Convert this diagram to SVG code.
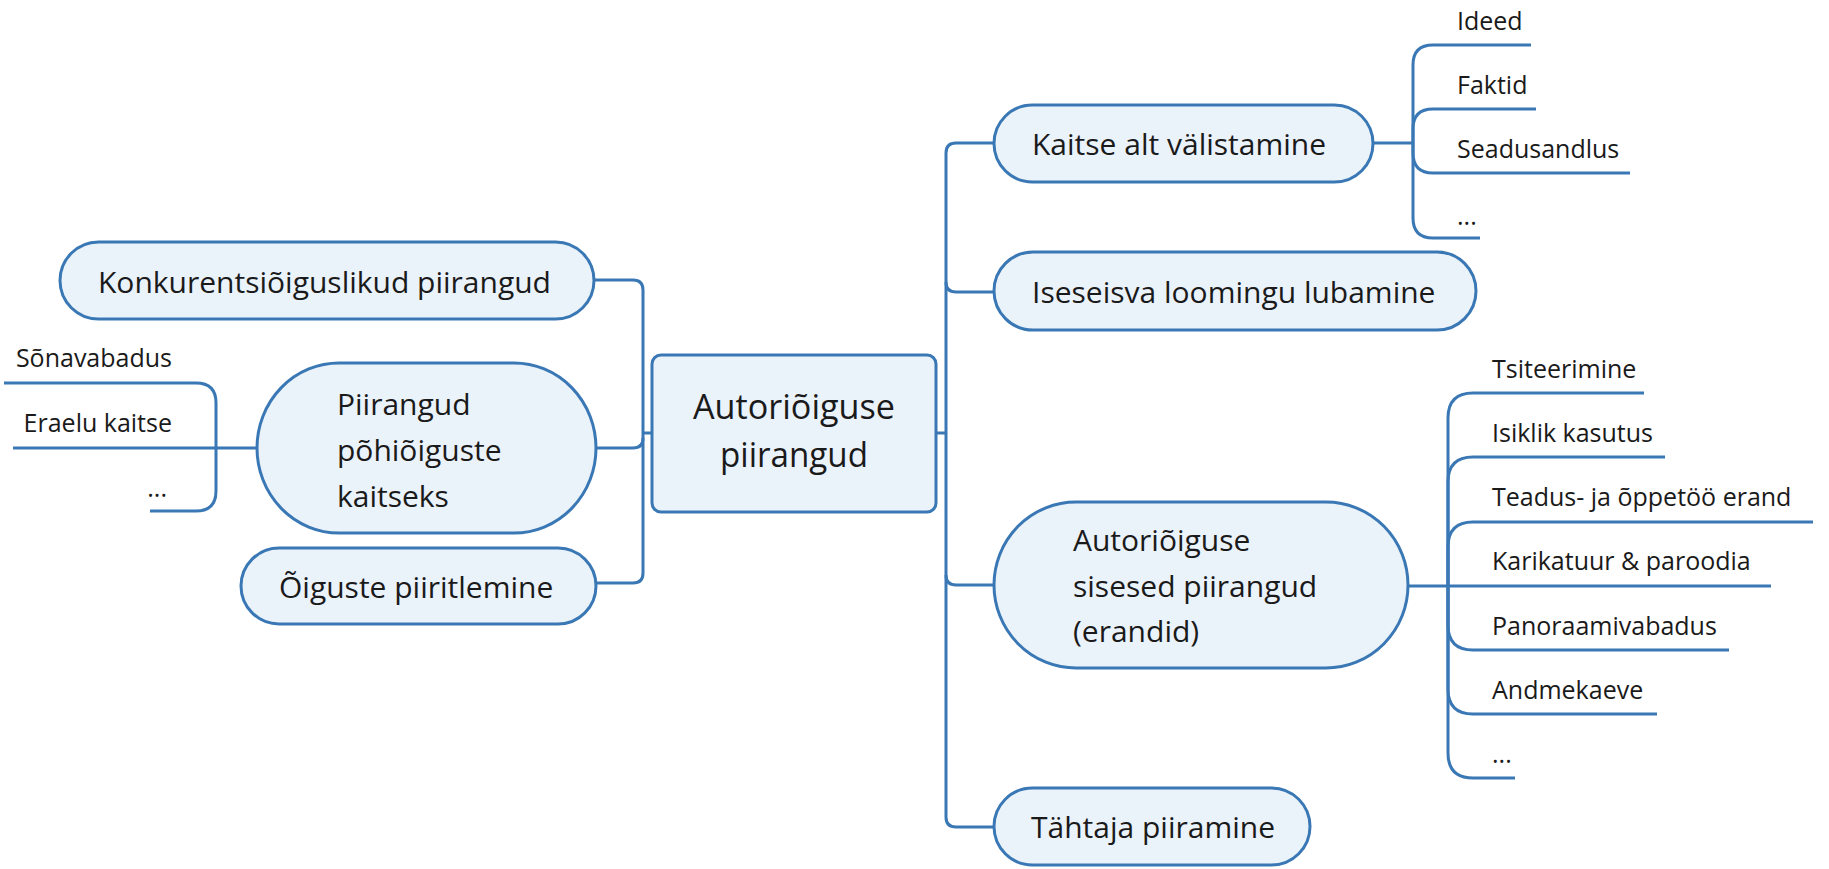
<svg xmlns="http://www.w3.org/2000/svg" width="1829" height="869" viewBox="0 0 1829 869">
<style>
.box{fill:#EAF2FA;stroke:#3A78B5;stroke-width:3}
.con{fill:none;stroke:#3A78B5;stroke-width:3;stroke-linecap:butt}
.t{font-family:"Open Sans","Noto Sans","Liberation Sans",sans-serif;fill:#1a1a1a;font-size:30px}
.c{font-family:"Open Sans","Noto Sans","Liberation Sans",sans-serif;fill:#1a1a1a;font-size:25px}
.m{font-family:"Open Sans","Noto Sans","Liberation Sans",sans-serif;fill:#1a1a1a;font-size:34px}
</style>
<rect width="1829" height="869" fill="#ffffff"/>
<g id="connectors">
<path class="con" d="M594,280 H633 Q643,280 643,290 V573 Q643,583 633,583 H596"/>
<path class="con" d="M596,448 H633 Q643,448 643,438"/>
<path class="con" d="M643,433 H652"/>
<path class="con" d="M936,433 H946"/>
<path class="con" d="M994,143 H956 Q946,143 946,153 V817 Q946,827 956,827 H994"/>
<path class="con" d="M946,282 Q946,292 956,292 H994"/>
<path class="con" d="M946,575 Q946,585 956,585 H994"/>
<path class="con" d="M1373,143 H1413"/>
<path class="con" d="M1413,143 V65 Q1413,45 1433,45 H1531"/>
<path class="con" d="M1413,143 V129 Q1413,109 1433,109 H1536"/>
<path class="con" d="M1413,143 V153 Q1413,173 1433,173 H1630"/>
<path class="con" d="M1413,143 V218 Q1413,238 1433,238 H1480"/>
<path class="con" d="M1408,586 H1771"/>
<path class="con" d="M1448,586 V418 Q1448,393 1473,393 H1644"/>
<path class="con" d="M1448,586 V482 Q1448,457 1473,457 H1665"/>
<path class="con" d="M1448,586 V547 Q1448,522 1473,522 H1813"/>
<path class="con" d="M1448,586 V625 Q1448,650 1473,650 H1729"/>
<path class="con" d="M1448,586 V689 Q1448,714 1473,714 H1657"/>
<path class="con" d="M1448,586 V753 Q1448,778 1473,778 H1515"/>
<path class="con" d="M257,448 H13"/>
<path class="con" d="M216,448 V403 Q216,383 196,383 H4"/>
<path class="con" d="M216,448 V491 Q216,511 196,511 H150"/>
</g>
<g id="center">
<rect class="box" x="652" y="355" width="284" height="157" rx="9"/>
<text class="m" x="794" y="419" text-anchor="middle" textLength="202" lengthAdjust="spacingAndGlyphs">Autoriõiguse</text>
<text class="m" x="794" y="467" text-anchor="middle" textLength="148" lengthAdjust="spacingAndGlyphs">piirangud</text>
</g>
<g id="konkurents">
<rect class="box" x="60" y="242" width="534" height="77" rx="38.5"/>
<text class="t" x="98" y="293">Konkurentsiõiguslikud piirangud</text>
</g>
<g id="pohioigused">
<rect class="box" x="257" y="363" width="339" height="170" rx="82" ry="85"/>
<text class="t" x="337" y="415">Piirangud</text>
<text class="t" x="337" y="461">põhiõiguste</text>
<text class="t" x="337" y="507">kaitseks</text>
</g>
<g id="piiritlemine">
<rect class="box" x="241" y="548" width="355" height="76" rx="38"/>
<text class="t" x="279" y="598">Õiguste piiritlemine</text>
</g>
<g id="valistamine">
<rect class="box" x="994" y="105" width="379" height="77" rx="38.5"/>
<text class="t" x="1032" y="155">Kaitse alt välistamine</text>
</g>
<g id="iseseisev">
<rect class="box" x="994" y="252" width="482" height="78" rx="39"/>
<text class="t" x="1032" y="303">Iseseisva loomingu lubamine</text>
</g>
<g id="sisesed">
<rect class="box" x="994" y="502" width="414" height="166" rx="82" ry="83"/>
<text class="t" x="1073" y="551">Autoriõiguse</text>
<text class="t" x="1073" y="597">sisesed piirangud</text>
<text class="t" x="1073" y="642">(erandid)</text>
</g>
<g id="tahtaeg">
<rect class="box" x="994" y="788" width="316" height="77" rx="38.5"/>
<text class="t" x="1031" y="838">Tähtaja piiramine</text>
</g>
<g id="leaf-ideed"><text class="c" x="1457" y="30">Ideed</text></g>
<g id="leaf-faktid"><text class="c" x="1457" y="94">Faktid</text></g>
<g id="leaf-seadusandlus"><text class="c" x="1457" y="158">Seadusandlus</text></g>
<g id="leaf-valist-more"><text class="c" x="1457" y="225">...</text></g>
<g id="leaf-tsiteerimine"><text class="c" x="1492" y="378">Tsiteerimine</text></g>
<g id="leaf-isiklik"><text class="c" x="1492" y="442">Isiklik kasutus</text></g>
<g id="leaf-teadus"><text class="c" x="1492" y="506">Teadus- ja õppetöö erand</text></g>
<g id="leaf-karikatuur"><text class="c" x="1492" y="570">Karikatuur &amp; paroodia</text></g>
<g id="leaf-panoraam"><text class="c" x="1492" y="635">Panoraamivabadus</text></g>
<g id="leaf-andmekaeve"><text class="c" x="1492" y="699">Andmekaeve</text></g>
<g id="leaf-erand-more"><text class="c" x="1492" y="763">...</text></g>
<g id="leaf-sonavabadus"><text class="c" x="172" y="367" text-anchor="end">Sõnavabadus</text></g>
<g id="leaf-eraelu"><text class="c" x="172" y="432" text-anchor="end">Eraelu kaitse</text></g>
<g id="leaf-pohi-more"><text class="c" x="167" y="497" text-anchor="end">...</text></g>
</svg>
